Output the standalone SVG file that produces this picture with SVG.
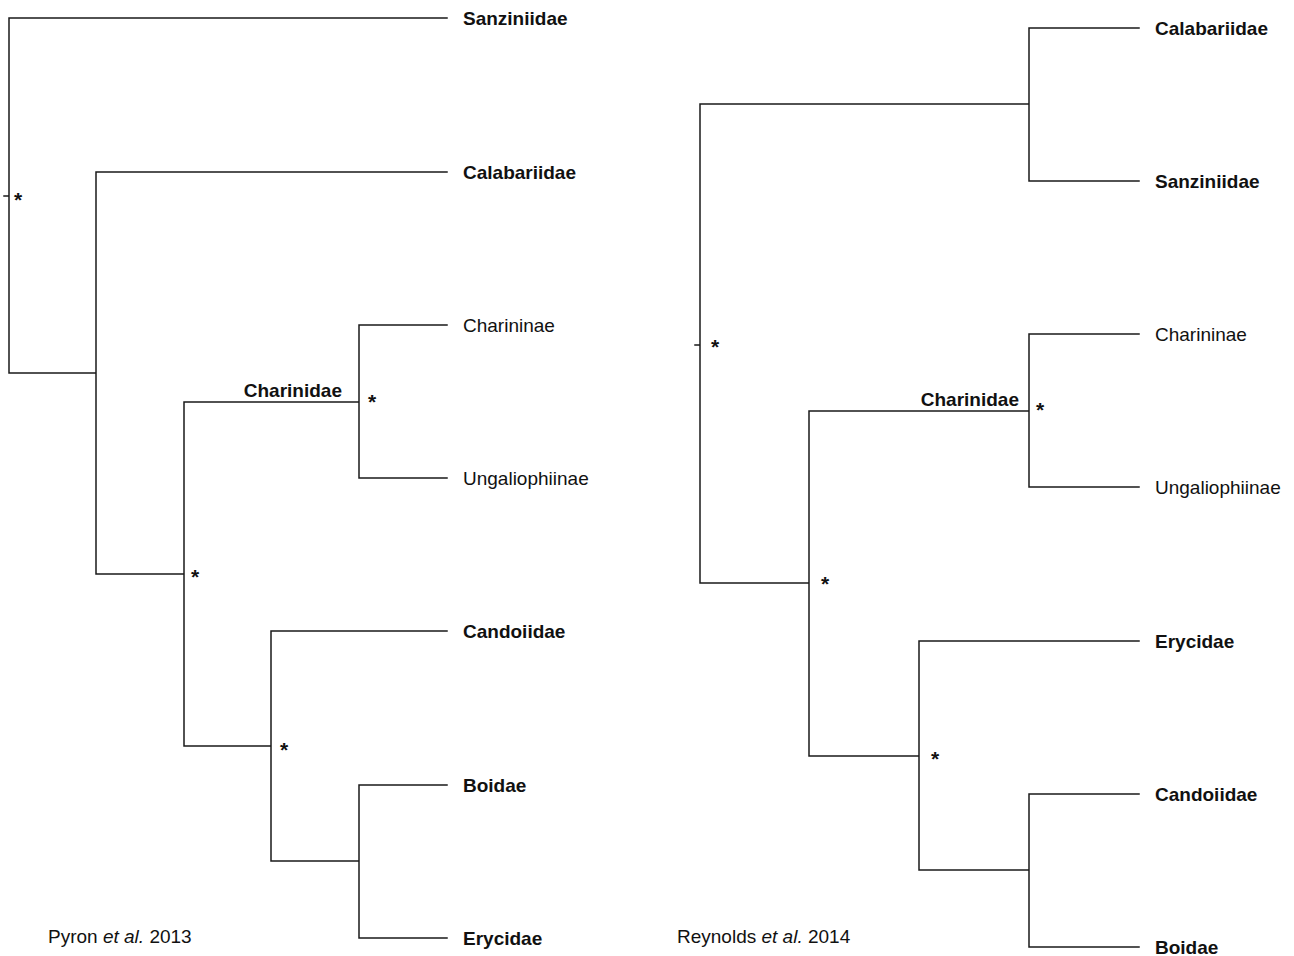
<svg xmlns="http://www.w3.org/2000/svg" width="1294" height="956" viewBox="0 0 1294 956">
<style>
.br{fill:none;stroke:#1a1a1a;stroke-width:1.5;stroke-linecap:square}
text{font-family:"Liberation Sans",Arial,sans-serif;font-size:19px;fill:#111}
.b{font-weight:bold}
.ast{font-weight:bold;font-size:21px}
</style>
<rect width="1294" height="956" fill="#fff"/>
<g id="connectors">
<path class="br" d="M4,196H9 M9,18V373 M9,18H447 M9,373H96 M96,172V574 M96,172H447 M96,574H184 M184,402V746 M184,402H359 M359,325V478 M359,325H447 M359,478H447 M184,746H271 M271,631V861 M271,631H447 M271,861H359 M359,785V938 M359,785H447 M359,938H447"/>
<path class="br" d="M695,345H700 M700,104V583 M700,104H1029 M1029,28V181 M1029,28H1139 M1029,181H1139 M700,583H809 M809,411V756 M809,411H1029 M1029,334V487 M1029,334H1139 M1029,487H1139 M809,756H919 M919,641V870 M919,641H1139 M919,870H1029 M1029,794V947 M1029,794H1139 M1029,947H1139"/>
</g>
<g id="left-tree">
<g id="L-sanziniidae"><text class="b" x="463" y="25">Sanziniidae</text></g>
<g id="L-calabariidae"><text class="b" x="463" y="179">Calabariidae</text></g>
<g id="L-charininae"><text x="463" y="332">Charininae</text></g>
<g id="L-ungaliophiinae"><text x="463" y="485">Ungaliophiinae</text></g>
<g id="L-candoiidae"><text class="b" x="463" y="638">Candoiidae</text></g>
<g id="L-boidae"><text class="b" x="463" y="792">Boidae</text></g>
<g id="L-erycidae"><text class="b" x="463" y="945">Erycidae</text></g>
<g id="L-charinidae"><text class="b" x="342" y="397" text-anchor="end">Charinidae</text></g>
<g id="L-asterisks">
<text class="ast" x="14" y="207">*</text>
<text class="ast" x="191" y="584">*</text>
<text class="ast" x="280" y="757">*</text>
<text class="ast" x="368" y="409">*</text>
</g>
<g id="L-caption"><text x="48" y="943">Pyron <tspan font-style="italic">et al.</tspan> 2013</text></g>
</g>
<g id="right-tree">
<g id="R-calabariidae"><text class="b" x="1155" y="35">Calabariidae</text></g>
<g id="R-sanziniidae"><text class="b" x="1155" y="188">Sanziniidae</text></g>
<g id="R-charininae"><text x="1155" y="341">Charininae</text></g>
<g id="R-ungaliophiinae"><text x="1155" y="494">Ungaliophiinae</text></g>
<g id="R-erycidae"><text class="b" x="1155" y="648">Erycidae</text></g>
<g id="R-candoiidae"><text class="b" x="1155" y="801">Candoiidae</text></g>
<g id="R-boidae"><text class="b" x="1155" y="954">Boidae</text></g>
<g id="R-charinidae"><text class="b" x="1019" y="406" text-anchor="end">Charinidae</text></g>
<g id="R-asterisks">
<text class="ast" x="711" y="354">*</text>
<text class="ast" x="1036" y="417">*</text>
<text class="ast" x="821" y="591">*</text>
<text class="ast" x="931" y="766">*</text>
</g>
<g id="R-caption"><text x="677" y="943">Reynolds <tspan font-style="italic">et al.</tspan> 2014</text></g>
</g>
</svg>
